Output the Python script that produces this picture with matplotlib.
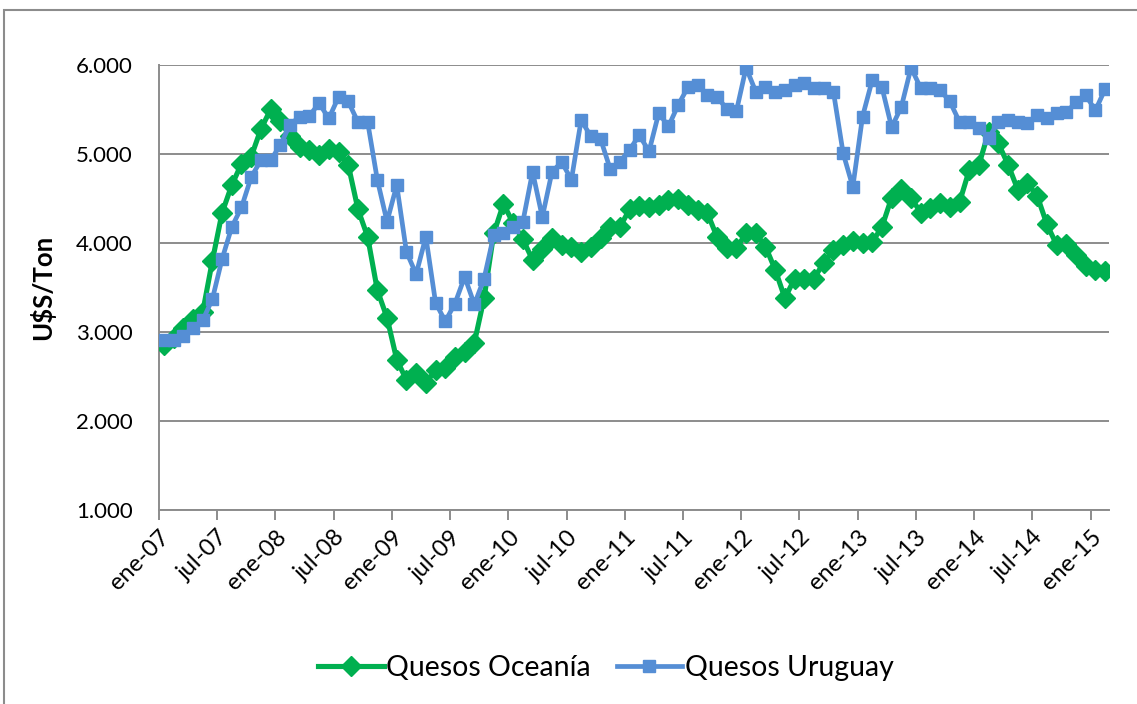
import numpy as np
import matplotlib.pyplot as plt
from matplotlib.patches import Rectangle

# Precios mensuales de quesos (U$S/Ton), ene-07 a feb-15
oceania = [2850, 2930, 3040, 3150, 3220, 3800, 4340, 4650, 4890, 4970,
           5280, 5500, 5370, 5200, 5080, 5040, 4990, 5060, 5020, 4880,
           4380, 4070, 3470, 3160, 2690, 2460, 2540, 2430, 2570, 2600,
           2720, 2770, 2880, 3380, 4110, 4440, 4220, 4040, 3810, 3930,
           4060, 3980, 3950, 3900, 3960, 4060, 4180, 4180, 4380, 4420,
           4410, 4430, 4480, 4490, 4430, 4370, 4340, 4070, 3940, 3940,
           4110, 4110, 3960, 3700, 3380, 3600, 3600, 3600, 3780, 3920,
           3980, 4020, 4000, 4010, 4180, 4510, 4610, 4510, 4340, 4390,
           4450, 4400, 4460, 4820, 4880, 5250, 5120, 4880, 4600, 4670,
           4530, 4210, 3980, 3990, 3860, 3740, 3700, 3680]

uruguay = [2910, 2910, 2960, 3050, 3130, 3370, 3820, 4180, 4400, 4740,
           4930, 4930, 5100, 5330, 5420, 5430, 5570, 5400, 5640, 5590,
           5360, 5360, 4710, 4240, 4650, 3900, 3650, 4070, 3330, 3120,
           3320, 3620, 3310, 3600, 4090, 4110, 4180, 4240, 4800, 4290,
           4800, 4910, 4710, 5380, 5200, 5170, 4830, 4910, 5050, 5210,
           5030, 5460, 5310, 5550, 5750, 5780, 5660, 5640, 5510, 5480,
           5970, 5700, 5750, 5700, 5720, 5780, 5800, 5740, 5740, 5700,
           5010, 4630, 5420, 5830, 5750, 5300, 5530, 5970, 5740, 5740,
           5720, 5590, 5360, 5360, 5290, 5180, 5360, 5380, 5360, 5350,
           5440, 5400, 5460, 5470, 5580, 5660, 5490, 5730]

tick_labels = ['ene-07', 'jul-07', 'ene-08', 'jul-08', 'ene-09', 'jul-09',
               'ene-10', 'jul-10', 'ene-11', 'jul-11', 'ene-12', 'jul-12',
               'ene-13', 'jul-13', 'ene-14', 'jul-14', 'ene-15']
y_ticks = [1000, 2000, 3000, 4000, 5000, 6000]

plt.rcParams['font.family'] = ['Lato', 'DejaVu Sans']

fig = plt.figure(figsize=(11.37, 7.04), dpi=100)
ax = fig.add_axes([159 / 1137, 1 - 510 / 704, (1109 - 159) / 1137, (510 - 65) / 704])

# borde exterior del grafico
fig.patches.append(Rectangle((4 / 1137, -0.05), 1.1, 1 - 10 / 704 + 0.05,
                             transform=fig.transFigure, fill=False,
                             edgecolor='#8c8c8c', linewidth=1.5))

x = np.arange(len(oceania)) + 0.5
green = '#00B050'
blue = '#558ED5'

ax.plot(x, oceania, color=green, linewidth=3.7, marker='D', markersize=10,
        markeredgecolor=green, label='Quesos Oceanía', zorder=3)
ax.plot(x, uruguay, color=blue, linewidth=3.4, marker='s', markersize=9,
        markeredgecolor=blue, label='Quesos Uruguay', zorder=4)

ax.set_xlim(0, 97.9)
ax.set_ylim(1000, 6000)
ax.set_yticks(y_ticks)
ax.set_yticklabels([f'{v:,}'.replace(',', '.') for v in y_ticks], fontsize=16)
ax.set_xticks(np.arange(0, 97, 6))
ax.set_xticklabels(tick_labels, rotation=45, ha='right', rotation_mode='anchor',
                   fontsize=17)

ax.grid(axis='y', color='#8c8c8c', linewidth=1.4)
ax.set_axisbelow(True)
for s in ['top', 'right']:
    ax.spines[s].set_visible(False)
for s in ['left', 'bottom']:
    ax.spines[s].set_color('#8c8c8c')
    ax.spines[s].set_linewidth(1.4)
ax.tick_params(axis='y', length=0, pad=19)
ax.tick_params(axis='x', length=7, width=1.4, color='#8c8c8c', pad=5)

ax.set_ylabel('U$S/Ton', fontsize=18.5, fontweight='bold', labelpad=15)

fig.legend(loc='center', bbox_to_anchor=(606 / 1137, 1 - 668 / 704), ncol=2,
           frameon=False, fontsize=20.5, handlelength=2.3, columnspacing=0.9,
           handletextpad=0.1)

plt.savefig('out.png', dpi=100)
